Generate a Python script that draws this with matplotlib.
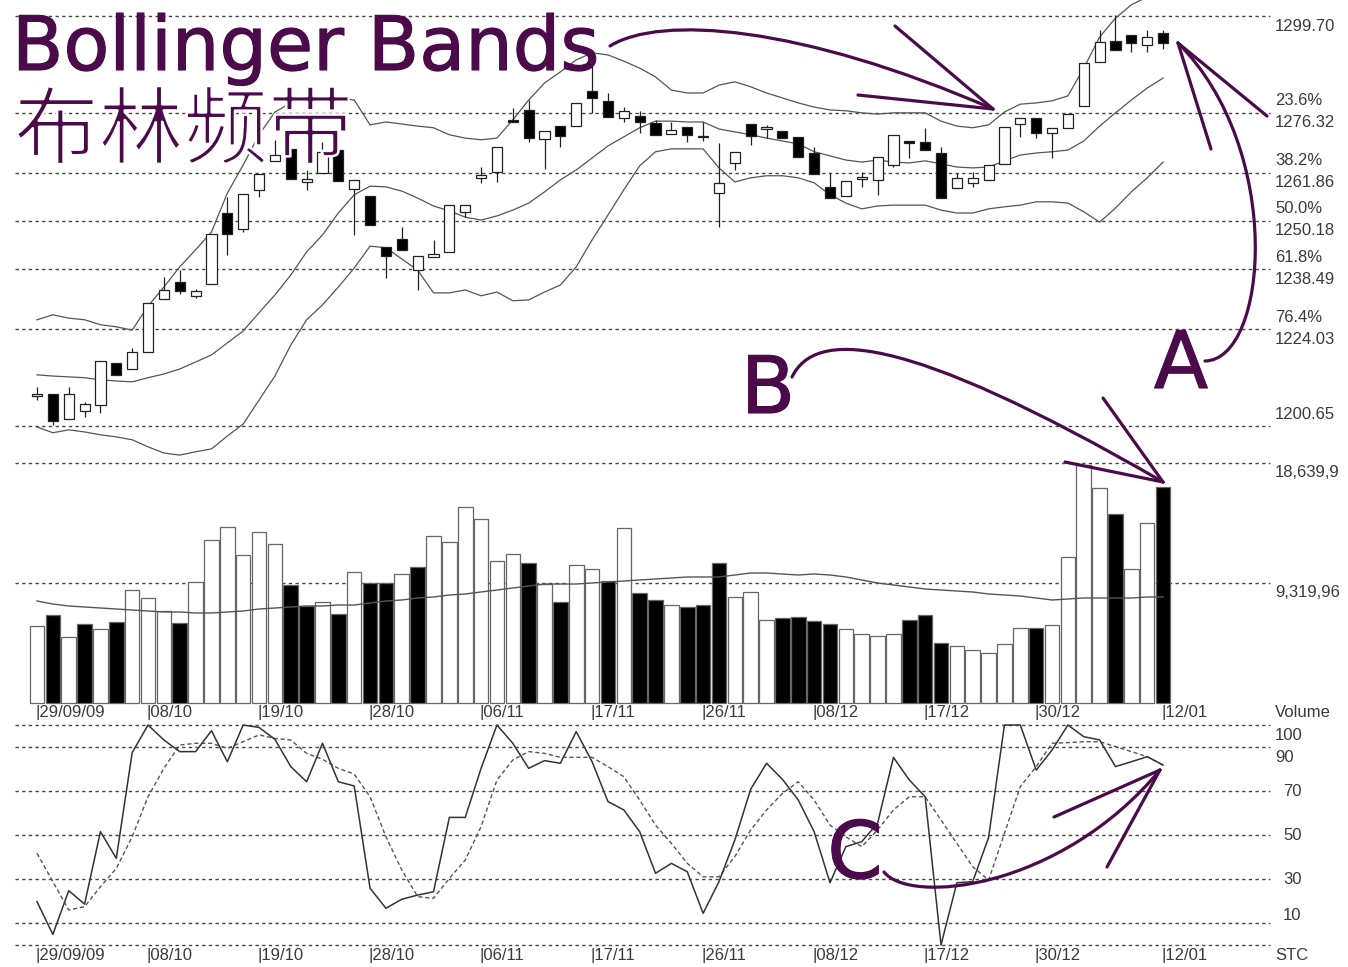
import matplotlib.pyplot as plt
import matplotlib.patheffects as pe
from matplotlib.path import Path
from matplotlib.patches import PathPatch
from matplotlib.lines import Line2D

# ---- data ----
dates = ['29/09/09', '08/10', '19/10', '28/10', '06/11', '17/11', '26/11',
         '08/12', '17/12', '30/12', '12/01']
date_idx = [0, 7, 14, 21, 28, 35, 42, 49, 56, 63, 71]

opens = [1208.0, 1208.4, 1202.3, 1204.3, 1205.7, 1215.9, 1214.4, 1218.5, 1231.3, 1235.4,
         1232.1, 1235.0, 1252.1, 1248.2, 1257.7, 1264.7, 1267.6, 1259.6, 1261.8, 1267.3,
         1257.9, 1256.2, 1243.9, 1245.8, 1238.3, 1241.5, 1242.7, 1252.4, 1260.6, 1262.0,
         1274.6, 1277.0, 1270.0, 1273.1, 1273.1, 1281.6, 1279.2, 1275.1, 1275.5, 1273.9,
         1271.2, 1272.9, 1270.4, 1256.9, 1264.2, 1273.6, 1272.5, 1271.9, 1270.5, 1266.6,
         1258.4, 1256.2, 1260.4, 1260.1, 1263.7, 1269.5, 1269.3, 1266.6, 1258.2, 1259.4,
         1260.1, 1264.0, 1273.6, 1275.1, 1271.4, 1272.7, 1278.0, 1288.6, 1293.7, 1295.1,
         1292.7, 1295.6]
highs = [1210.1, 1208.4, 1210.1, 1206.5, 1216.4, 1215.9, 1219.5, 1230.4, 1236.7, 1238.3,
         1233.8, 1247.0, 1256.0, 1256.7, 1261.5, 1269.8, 1267.6, 1262.5, 1269.3, 1267.3,
         1260.1, 1256.2, 1243.9, 1248.7, 1241.7, 1245.6, 1254.0, 1254.0, 1263.2, 1268.1,
         1277.5, 1279.4, 1271.9, 1273.1, 1278.7, 1287.9, 1281.1, 1277.7, 1276.8, 1274.6,
         1274.1, 1272.9, 1274.1, 1269.0, 1266.9, 1273.6, 1273.4, 1271.9, 1270.5, 1268.1,
         1261.8, 1259.8, 1262.0, 1265.6, 1271.0, 1269.5, 1272.7, 1268.1, 1261.8, 1262.0,
         1263.7, 1272.9, 1275.1, 1275.1, 1272.7, 1276.0, 1288.4, 1296.3, 1300.0, 1295.1,
         1296.3, 1296.3]
lows = [1206.9, 1200.9, 1202.3, 1202.8, 1203.8, 1213.0, 1214.4, 1218.5, 1231.3, 1232.5,
        1231.6, 1235.0, 1242.0, 1247.5, 1256.0, 1264.7, 1260.3, 1257.7, 1261.8, 1259.8,
        1246.8, 1249.2, 1236.4, 1243.2, 1233.5, 1241.5, 1242.7, 1251.1, 1259.4, 1259.6,
        1274.1, 1269.3, 1262.7, 1268.1, 1273.1, 1276.3, 1275.3, 1274.1, 1271.4, 1271.0,
        1271.2, 1269.3, 1269.5, 1248.7, 1262.5, 1268.5, 1270.2, 1270.2, 1265.6, 1261.5,
        1255.7, 1256.2, 1258.4, 1256.5, 1263.2, 1265.4, 1267.3, 1255.7, 1258.2, 1258.4,
        1260.1, 1264.0, 1270.5, 1270.2, 1265.4, 1272.7, 1278.0, 1288.6, 1291.5, 1291.0,
        1291.0, 1291.7]
closes = [1208.3, 1201.9, 1208.4, 1206.0, 1216.4, 1213.0, 1218.5, 1230.4, 1233.5, 1233.3,
          1233.3, 1247.0, 1247.0, 1256.7, 1261.5, 1266.1, 1260.3, 1260.3, 1266.9, 1259.8,
          1260.1, 1249.2, 1241.7, 1243.2, 1241.7, 1242.2, 1254.0, 1254.0, 1261.3, 1268.1,
          1274.1, 1270.2, 1271.9, 1270.7, 1278.7, 1279.9, 1275.3, 1276.8, 1274.1, 1271.0,
          1272.2, 1271.0, 1270.6, 1259.4, 1266.9, 1270.7, 1272.8, 1270.2, 1265.6, 1261.5,
          1255.7, 1259.8, 1260.7, 1265.6, 1271.0, 1269.0, 1267.3, 1255.7, 1260.6, 1260.6,
          1263.7, 1272.9, 1275.1, 1271.4, 1272.7, 1276.0, 1288.4, 1293.4, 1291.5, 1293.2,
          1294.6, 1293.2]

upper = [1226.3, 1227.5, 1226.7, 1226.3, 1225.1, 1224.6, 1223.8, 1229.6, 1234.2, 1239.1,
         1243.2, 1247.5, 1256.9, 1263.7, 1271.0, 1276.5, 1278.7, 1279.4, 1279.9, 1279.9,
         1279.4, 1273.4, 1274.1, 1273.6, 1273.1, 1272.7, 1271.0, 1270.2, 1269.8, 1270.2,
         1274.6, 1279.4, 1283.5, 1286.2, 1289.1, 1290.8, 1290.3, 1288.8, 1287.1, 1285.0,
         1281.8, 1281.1, 1281.1, 1283.0, 1283.8, 1282.6, 1281.1, 1279.9, 1278.7, 1277.7,
         1277.0, 1276.8, 1276.3, 1276.0, 1276.3, 1276.3, 1276.3, 1274.3, 1273.1, 1272.7,
         1273.4, 1276.5, 1278.4, 1278.7, 1279.2, 1280.4, 1287.1, 1294.6, 1299.2, 1302.4,
         1304.3, 1306.0]
middle = [1213.0, 1212.7, 1212.5, 1212.3, 1211.8, 1211.5, 1211.3, 1212.3, 1213.2, 1214.4,
          1216.1, 1217.8, 1220.7, 1223.6, 1228.0, 1232.3, 1237.1, 1242.7, 1246.8, 1252.1,
          1256.5, 1258.6, 1258.4, 1257.4, 1255.7, 1253.8, 1252.6, 1251.1, 1250.4, 1251.4,
          1252.8, 1254.5, 1257.2, 1260.1, 1262.5, 1265.4, 1268.3, 1270.5, 1272.7, 1274.3,
          1274.3, 1274.1, 1274.1, 1272.4, 1271.7, 1271.0, 1270.2, 1269.5, 1268.8, 1266.9,
          1265.9, 1264.9, 1264.4, 1264.9, 1264.4, 1264.2, 1264.7, 1264.0, 1263.2, 1263.0,
          1263.2, 1264.7, 1266.1, 1266.6, 1266.9, 1267.3, 1269.5, 1273.1, 1276.3, 1279.4,
          1282.3, 1284.7]
lower = [1200.4, 1199.0, 1199.7, 1199.2, 1198.5, 1198.0, 1197.3, 1195.6, 1194.1, 1193.6,
         1194.4, 1195.1, 1198.2, 1201.1, 1206.9, 1212.7, 1220.2, 1226.3, 1229.9, 1234.2,
         1238.8, 1244.1, 1243.7, 1241.0, 1238.3, 1232.8, 1232.8, 1233.5, 1232.1, 1233.0,
         1230.9, 1231.1, 1233.0, 1234.7, 1239.1, 1245.6, 1251.6, 1257.7, 1263.5, 1266.9,
         1267.6, 1267.6, 1267.6, 1263.0, 1259.6, 1260.6, 1261.1, 1261.1, 1260.6, 1259.4,
         1256.5, 1254.5, 1253.1, 1253.8, 1254.0, 1254.0, 1254.0, 1252.8, 1252.1, 1252.1,
         1253.1, 1253.6, 1254.0, 1254.8, 1254.8, 1254.5, 1252.4, 1249.9, 1253.3, 1257.2,
         1260.6, 1264.4]

volume = [6004, 6835, 5149, 6136, 5747, 6314, 8776, 8178, 7145, 6237,
          9374, 12660, 13692, 11495, 13304, 12326, 9165, 7534, 7867, 6912,
          10197, 9297, 9297, 10019, 10586, 12970, 12481, 15246, 14291, 11029,
          11595, 10896, 9242, 7867, 10718, 10407, 9475, 13568, 8520, 8000,
          7611, 7479, 7611, 10850, 8256, 8644, 6446, 6578, 6656, 6369,
          6112, 5747, 5359, 5204, 5359, 6446, 6835, 4683, 4450, 4116,
          3860, 4559, 5802, 5848, 6058, 11316, 18500, 16675, 14656, 10407,
          13957, 16753]
vol_down = [0, 1, 0, 1, 0, 1, 0, 0, 0, 1, 0, 0, 0, 0, 0, 0, 1, 1, 0, 1,
            0, 1, 1, 0, 1, 0, 0, 0, 0, 0, 0, 1, 0, 1, 0, 0, 1, 0, 1, 1,
            0, 1, 1, 1, 0, 0, 0, 1, 1, 1, 1, 0, 0, 0, 0, 1, 1, 1, 0, 0,
            0, 0, 0, 1, 0, 0, 0, 0, 1, 0, 0, 1]
vol_ma = [7922, 7689, 7534, 7456, 7378, 7301, 7223, 7145, 7068, 7068,
          6990, 6990, 7068, 7145, 7301, 7378, 7456, 7534, 7534, 7611,
          7611, 7767, 7922, 8000, 8155, 8233, 8388, 8466, 8621, 8776,
          8932, 9087, 9242, 9242, 9242, 9320, 9398, 9475, 9553, 9631,
          9708, 9786, 9786, 9786, 9941, 10097, 10097, 10019, 9941, 10019,
          9941, 9786, 9553, 9320, 9165, 9010, 8854, 8776, 8699, 8621,
          8466, 8388, 8310, 8155, 8000, 8078, 8155, 8155, 8155, 8155,
          8233, 8233]

stc_k = [19.7, 4.8, 24.7, 18.6, 51.5, 39.4, 87.4, 100, 93.2, 87.9,
         87.9, 97.4, 83.3, 100, 98.9, 93.5, 81.1, 74.2, 91.7, 74.2,
         72.3, 25.8, 16.7, 20.8, 22.7, 24.2, 58.0, 58.0, 80.3, 100,
         91.7, 80.3, 83.8, 82.6, 97.0, 83.3, 65.2, 61.4, 51.5, 32.6,
         37.1, 33.3, 14.4, 28.8, 47.7, 70.8, 82.6, 75.3, 65.9, 51.5,
         28.3, 44.7, 47.0, 55.3, 85.3, 75.0, 67.4, 0.0, 28.3, 28.8,
         48.9, 100, 100, 79.5, 88.6, 100, 94.7, 93.2, 81.1, 83.3,
         85.6, 81.8]
stc_d = [41.7, 28.8, 15.9, 17.4, 26.5, 34.8, 49.2, 67.4, 80.3, 90.9,
         91.7, 91.7, 89.4, 92.4, 95.5, 93.9, 93.2, 87.1, 84.4, 80.3,
         77.7, 67.4, 49.2, 34.1, 22.0, 21.2, 30.3, 38.6, 53.8, 75.0,
         84.1, 87.9, 87.1, 85.3, 85.3, 85.3, 81.1, 76.5, 65.9, 54.5,
         46.2, 37.1, 31.0, 31.0, 40.2, 52.3, 61.4, 68.9, 74.2, 65.9,
         54.5, 49.2, 44.7, 52.3, 61.4, 67.4, 67.4, 56.8, 46.2, 35.6,
         29.5, 50.8, 72.0, 81.1, 91.7, 92.0, 92.4, 92.4, 90.2, 87.9,
         85.6, 81.8]

price_levels = [1299.70, 1276.32, 1261.86, 1250.18, 1238.49, 1224.03, 1200.65]
price_labels = ['1299.70', '1276.32', '1261.86', '1250.18', '1238.49', '1224.03', '1200.65']
fib_labels = ['', '23.6%', '38.2%', '50.0%', '61.8%', '76.4%', '']
vol_levels = [18639.9, 9319.96]
vol_labels = ['18,639,9', '9,319,96']
stc_levels = [100, 90, 70, 50, 30, 10, 0]

# ---- layout ----
W, H = 1348, 967
step, x0 = 15.86, 37
purple = '#4b0b4b'
grey = '#3a3a3a'
lab_font = 'Liberation Sans'
n = len(opens)
xs = list(range(n))

fig = plt.figure(figsize=(W / 100, H / 100), dpi=100)
fig.patch.set_facecolor('white')


def band(top, bottom):
    return [0, 1 - bottom / H, 1, (bottom - top) / H]


ax_p = fig.add_axes(band(0, 458))
ax_v = fig.add_axes(band(458, 706))
ax_s = fig.add_axes(band(706, 967))
for ax in (ax_p, ax_v, ax_s):
    ax.set_xlim(-x0 / step, (W - x0) / step)
    ax.axis('off')
ax_p.set_ylim(1192.9, 1303.57)
ax_v.set_ylim(-233, 19028)
ax_s.set_ylim(-10, 108.64)

gx0 = (15 - x0) / step
gx1 = (1270 - x0) / step
lx = (1275 - x0) / step
dash = (0, (2.4, 2.4))


def label(ax, txt, y, dy, dx=0):
    ax.annotate(txt, (lx, y), xytext=(dx, dy), textcoords='offset pixels',
                ha='left', va='center', fontsize=12, color=grey,
                family=lab_font, annotation_clip=False)


# price panel
ax_p.hlines(price_levels, gx0, gx1, colors='#444444', linestyles=dash, lw=1.0)
for lev, pl, fl in zip(price_levels, price_labels, fib_labels):
    if pl == '1200.65':
        label(ax_p, pl, lev, 11)
    else:
        label(ax_p, pl, lev, -10)
    if fl:
        label(ax_p, fl, lev, 12)

ax_p.plot(xs, upper, color='#555555', lw=0.9)
ax_p.plot(xs, middle, color='#555555', lw=0.9)
ax_p.plot(xs, lower, color='#555555', lw=0.9)

ax_p.vlines(xs, lows, highs, colors='#222222', lw=0.9, zorder=3)
bottoms = [min(o, c) for o, c in zip(opens, closes)]
heights = [max(abs(c - o), 0.3) for o, c in zip(opens, closes)]
faces = ['black' if c < o else 'white' for o, c in zip(opens, closes)]
ax_p.bar(xs, heights, 0.64, bottoms, color=faces, edgecolor='#222222',
         lw=0.9, zorder=4)

# volume panel
ax_v.hlines(vol_levels, gx0, gx1, colors='#444444', linestyles=dash, lw=1.0)
for lev, vl in zip(vol_levels, vol_labels):
    label(ax_v, vl, lev, -10)
label(ax_v, 'Volume', 0, -10)
vcol = ['black' if d else 'white' for d in vol_down]
ax_v.bar(xs, volume, 0.92, color=vcol, edgecolor='#666666', lw=0.9, zorder=2)
ax_v.plot(xs, vol_ma, color='#555555', lw=1.0, zorder=3)

# stc panel
ax_s.hlines(stc_levels, gx0, gx1, colors='#444444', linestyles=dash, lw=1.0)
label(ax_s, '100', 100, -10)
label(ax_s, '90', 90, -10)
label(ax_s, '70', 70, 0, 8)
label(ax_s, '50', 50, 0, 8)
label(ax_s, '30', 30, 0, 8)
label(ax_s, '10', 10, 8, 8)
label(ax_s, 'STC', 0, -10)
ax_s.plot(xs, stc_d, color='#555555', lw=1.0, linestyle=(0, (3, 2)))
ax_s.plot(xs, stc_k, color='#333333', lw=1.1)

# date rows under volume and stc
for i, d in zip(date_idx, dates):
    for ax in (ax_v, ax_s):
        ax.annotate('|' + d, (i - 0.12, 0), xytext=(0, -10), textcoords='offset pixels',
                    ha='left', va='center', fontsize=12, color=grey,
                    family=lab_font, annotation_clip=False)


# ---- purple annotations (figure pixel positions) ----
def fp(x, y):
    return (x / W, 1 - y / H)


def curve(p0, p1, p2, p3, tip, heads):
    path = Path([fp(*p0), fp(*p1), fp(*p2), fp(*p3)],
                [Path.MOVETO, Path.CURVE4, Path.CURVE4, Path.CURVE4])
    fig.add_artist(PathPatch(path, fill=False, edgecolor=purple, lw=2.3,
                             transform=fig.transFigure, capstyle='round'))
    for hx, hy in heads:
        a, b = fp(*tip), fp(hx, hy)
        fig.add_artist(Line2D([a[0], b[0]], [a[1], b[1]], color=purple, lw=2.3,
                              transform=fig.transFigure, solid_capstyle='round'))


thick = [pe.withStroke(linewidth=0.8, foreground=purple)]
# thin the CJK glyphs with a white outline so they look closer to the light serif original
thin = [pe.Stroke(linewidth=1.8, foreground='white')]
fig.text(12 / W, 1 - 70 / H, 'Bollinger Bands', fontsize=54, color=purple,
         family='DejaVu Sans', ha='left', va='baseline', path_effects=thick)
fig.text(14 / W, 1 - 133 / H, '布林频带', fontsize=61, color=purple,
         family=['Noto Sans CJK SC', 'DejaVu Sans'],
         ha='left', va='center', path_effects=thin)
for letter, lx_, ly_ in [('A', 1181, 388), ('B', 768, 413), ('C', 855, 878)]:
    fig.text(lx_ / W, 1 - ly_ / H, letter, fontsize=57, color=purple,
             family='DejaVu Sans', ha='center', va='baseline', path_effects=thick)

curve((610, 46), (660, 15), (800, 25), (993, 109), (993, 109),
      [(895, 26), (858, 95)])
curve((1205, 361), (1268, 360), (1285, 150), (1178, 43), (1178, 43),
      [(1267, 116), (1211, 149)])
curve((792, 377), (815, 330), (900, 330), (1163, 482), (1163, 482),
      [(1103, 398), (1065, 462)])
curve((884, 872), (910, 905), (1060, 890), (1160, 770), (1160, 770),
      [(1054, 817), (1107, 867)])

fig.savefig('out.png', dpi=100, facecolor='white')
